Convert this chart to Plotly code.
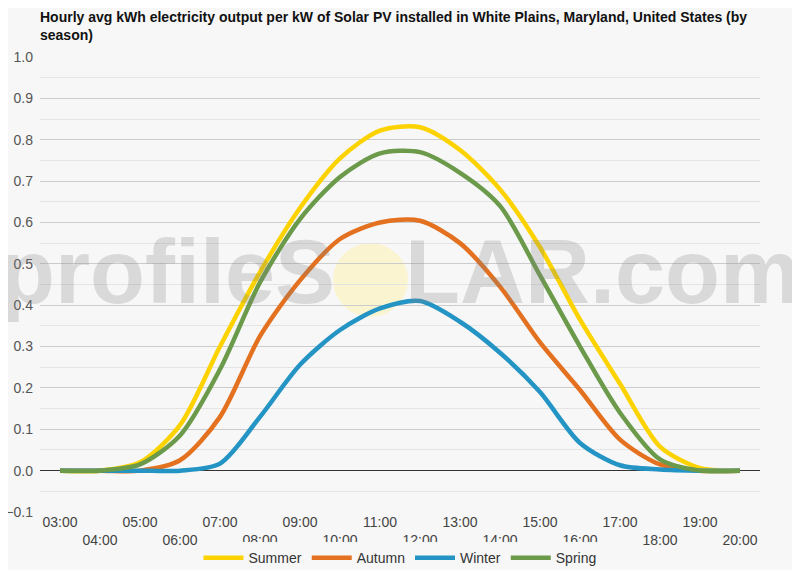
import plotly.graph_objects as go

hours = ["03:00", "04:00", "05:00", "06:00", "07:00", "08:00", "09:00", "10:00", "11:00",
         "12:00", "13:00", "14:00", "15:00", "16:00", "17:00", "18:00", "19:00", "20:00"]

summer = [0.0, 0.0, 0.02, 0.11, 0.30, 0.48, 0.635, 0.755, 0.822, 0.83, 0.775, 0.68,
          0.54, 0.365, 0.21, 0.058, 0.006, 0.0]
autumn = [0.0, 0.0, 0.0, 0.025, 0.13, 0.325, 0.46, 0.56, 0.60, 0.604, 0.55, 0.445,
          0.31, 0.195, 0.075, 0.015, 0.0, 0.0]
winter = [0.0, 0.0, 0.0, 0.0, 0.017, 0.13, 0.256, 0.34, 0.392, 0.41, 0.36, 0.285,
          0.19, 0.067, 0.013, 0.003, 0.0, 0.0]
spring = [0.0, 0.0, 0.015, 0.085, 0.245, 0.455, 0.608, 0.71, 0.767, 0.77, 0.72, 0.64,
          0.472, 0.30, 0.14, 0.027, 0.0, 0.0]

series = [("Summer", summer, "#fcd300"),
          ("Autumn", autumn, "#e3711f"),
          ("Winter", winter, "#2394c4"),
          ("Spring", spring, "#6b9a4b")]

# staggered tick labels like the original
ticktext = [h if i % 2 == 0 else "<br>" + h for i, h in enumerate(hours)]

fig = go.Figure()
for name, vals, col in series:
    fig.add_trace(go.Scatter(x=hours, y=vals, name=name, mode="lines",
                             line=dict(color=col, width=4.5, shape="spline", smoothing=0.8)))

# watermark
fig.add_shape(type="circle", xref="paper", yref="paper",
              x0=0.407, x1=0.511, y0=0.429, y1=0.591,
              fillcolor="rgba(255,240,150,0.4)", line_width=0, layer="below")
fig.add_annotation(text='profileS<span style="color:rgba(0,0,0,0)">O</span>LAR.com',
                   xref="paper", yref="paper", x=0.5, y=0.527, showarrow=False,
                   font=dict(family="Liberation Sans", size=90, weight="bold",
                             color="rgba(128,128,128,0.25)"))

# page body adds 8px offset, margins compensate for it
fig.update_layout(
    width=800, height=570,
    paper_bgcolor="#f7f7f7", plot_bgcolor="#f7f7f7",
    margin=dict(l=32, r=48, t=49, b=66),
    font=dict(family="Liberation Sans", color="#555"),
    title=dict(text="Hourly avg kWh electricity output per kW of Solar PV installed in White Plains, Maryland, United States (by<br>season)",
               x=0.04, xanchor="left", y=0.975, yanchor="top",
               font=dict(size=14, color="#111", weight="bold")),
    showlegend=True,
    legend=dict(orientation="h", x=0.5, xanchor="center", yref="container",
                y=0.035, yanchor="middle",
                font=dict(size=14, color="#333"), itemwidth=40),
    xaxis=dict(type="category", range=[-0.5, 17.5], tickmode="array", automargin=False,
               tickvals=hours, ticktext=ticktext, showgrid=False,
               tickfont=dict(size=14, color="#444"), ticks="", zeroline=False),
    yaxis=dict(range=[-0.1, 1.0], dtick=0.1, tickformat=".1f", showgrid=True, automargin=False,
               gridcolor="#cccccc", zeroline=True, zerolinecolor="#333", zerolinewidth=1,
               tickfont=dict(size=14, color="#555"), ticklabelstandoff=6,
               minor=dict(dtick=0.05, showgrid=True, gridcolor="#e4e4e4")),
)

fig.write_html("out.html")
